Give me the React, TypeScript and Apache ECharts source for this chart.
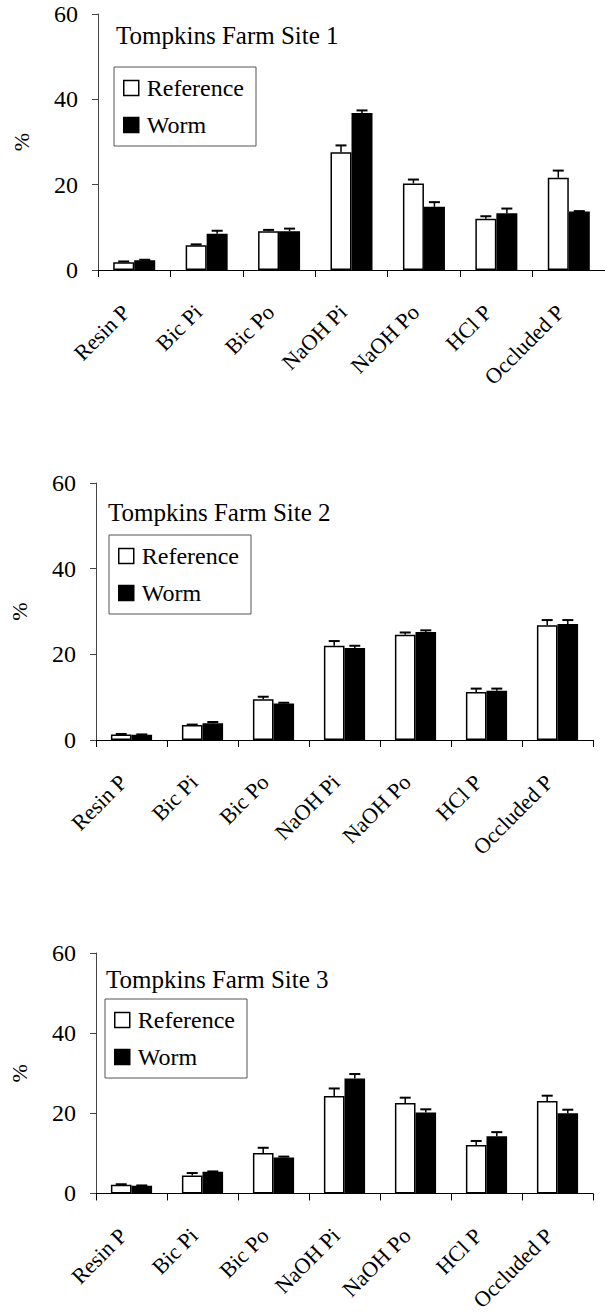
import React, { useEffect, useRef } from "react";
import * as echarts from "echarts";

const categories = ["Resin P", "Bic Pi", "Bic Po", "NaOH Pi", "NaOH Po", "HCl P", "Occluded P"];
const yTicks = [0, 20, 40, 60];
const titles = ["Tompkins Farm Site 1", "Tompkins Farm Site 2", "Tompkins Farm Site 3"];
const seriesNames = ["Reference", "Worm"];

// Site 1
const ref1 = [1.8, 5.8, 9.1, 27.6, 20.3, 12.0, 21.6];
const refSE1 = [0.2, 0.2, 0.3, 1.6, 0.9, 0.6, 1.7];
const worm1 = [2.3, 8.5, 9.1, 36.8, 14.8, 13.3, 13.7];
const wormSE1 = [0.1, 0.7, 0.6, 0.6, 1.1, 1.1, 0.1];
// Site 2
const ref2 = [1.3, 3.5, 9.5, 22.0, 24.6, 11.2, 26.8];
const refSE2 = [0.1, 0.1, 0.6, 1.1, 0.5, 0.8, 1.2];
const worm2 = [1.2, 3.9, 8.5, 21.5, 25.2, 11.5, 27.1];
const wormSE2 = [0.1, 0.3, 0.2, 0.5, 0.4, 0.5, 0.9];
// Site 3
const ref3 = [2.2, 4.5, 10.1, 24.3, 22.6, 12.1, 23.1];
const refSE3 = [0.1, 0.6, 1.3, 1.9, 1.3, 1.0, 1.3];
const worm3 = [1.9, 5.4, 9.0, 28.7, 20.2, 14.3, 20.0];
const wormSE3 = [0.1, 0.1, 0.2, 1.1, 0.8, 1.0, 0.9];

const FONT = '"Liberation Serif", "Times New Roman", serif';
const GAP = 0.42;

const panels = [
  { ref: ref1, refSE: refSE1, worm: worm1, wormSE: wormSE1, grid: { left: 98, top: 14, width: 510, height: 256 }, title: { left: 116, top: 23 }, legend: { left: 114, top: 67 } },
  { ref: ref2, refSE: refSE2, worm: worm2, wormSE: wormSE2, grid: { left: 91, top: 483, width: 502, height: 257 }, title: { left: 108, top: 500 }, legend: { left: 109, top: 535 } },
  { ref: ref3, refSE: refSE3, worm: worm3, wormSE: wormSE3, grid: { left: 90, top: 953, width: 503, height: 255 }, title: { left: 106, top: 967 }, legend: { left: 105, top: 999 } },
];

function errSeries(g: number, vals: number[], ses: number[], side: number) {
  return {
    type: "custom",
    xAxisIndex: g,
    yAxisIndex: g,
    z: 5,
    silent: true,
    data: vals.map((v, i) => [i, v, v + ses[i]]),
    renderItem: (params: any, api: any) => {
      const i = api.value(0);
      const v = api.value(1);
      const t = api.value(2);
      const p0 = api.coord([i, v]);
      const p1 = api.coord([i, t]);
      const band = api.size([1, 0])[0];
      const bw = (band * (1 - GAP)) / 2;
      const x = p0[0] + (side * bw) / 2;
      return {
        type: "group",
        children: [
          { type: "line", shape: { x1: x, y1: p0[1], x2: x, y2: p1[1] }, style: { stroke: "#000", lineWidth: 1.5 } },
          { type: "line", shape: { x1: x - 5.5, y1: p1[1], x2: x + 5.5, y2: p1[1] }, style: { stroke: "#000", lineWidth: 2 } },
        ],
      };
    },
  };
}

export default function App() {
  const ref = useRef<HTMLDivElement>(null);
  useEffect(() => {
    if (!ref.current) return;
    const chart = echarts.init(ref.current, null, { renderer: "svg" });
    const grid: any[] = [];
    const xAxis: any[] = [];
    const yAxis: any[] = [];
    const title: any[] = [];
    const legend: any[] = [];
    const series: any[] = [];
    panels.forEach((p, g) => {
      grid.push({ ...p.grid, containLabel: false });
      xAxis.push({
        type: "category",
        gridIndex: g,
        data: categories,
        axisLine: { lineStyle: { color: "#000", width: 1 } },
        axisTick: { show: true, length: 7, lineStyle: { color: "#000" } },
        axisLabel: {
          rotate: 45,
          interval: 0,
          margin: 30,
          padding: [0, 12, 0, 0],
          fontFamily: FONT,
          fontSize: 22,
          color: "#000",
        },
      });
      yAxis.push({
        type: "value",
        gridIndex: g,
        min: 0,
        max: 60,
        interval: 20,
        name: "%",
        nameLocation: "middle",
        nameGap: 66,
        nameTextStyle: { fontFamily: FONT, fontSize: 22, color: "#000" },
        axisLine: { show: true, lineStyle: { color: "#444", width: 1 } },
        axisTick: { show: true, length: 6, lineStyle: { color: "#444" } },
        splitLine: { show: false },
        axisLabel: {
          margin: 20,
          fontFamily: FONT,
          fontSize: 24,
          color: "#000",
          formatter: (v: number) => (yTicks.includes(v) ? String(v) : ""),
        },
      });
      title.push({
        text: titles[g],
        left: p.title.left,
        top: p.title.top,
        padding: 0,
        textStyle: { fontFamily: FONT, fontSize: 25, fontWeight: "normal", color: "#000" },
      });
      legend.push({
        left: p.legend.left,
        top: p.legend.top,
        orient: "vertical",
        itemWidth: 15,
        itemHeight: 15,
        itemGap: 13,
        padding: [9, 12, 9, 9],
        borderColor: "#555",
        borderWidth: 1,
        selectedMode: false,
        icon: "rect",
        textStyle: { fontFamily: FONT, fontSize: 24, color: "#000", padding: [0, 0, 0, 3] },
        data: [
          { name: seriesNames[0], itemStyle: { color: "#fff", borderColor: "#000", borderWidth: 1.5 } },
          { name: seriesNames[1], itemStyle: { color: "#000", borderColor: "#000", borderWidth: 1.5 } },
        ],
      });
      series.push({
        type: "bar",
        name: seriesNames[0],
        xAxisIndex: g,
        yAxisIndex: g,
        data: p.ref,
        barGap: "0%",
        barCategoryGap: "42%",
        itemStyle: { color: "#fff", borderColor: "#000", borderWidth: 1.5 },
      });
      series.push({
        type: "bar",
        name: seriesNames[1],
        xAxisIndex: g,
        yAxisIndex: g,
        data: p.worm,
        barGap: "0%",
        barCategoryGap: "42%",
        itemStyle: { color: "#000", borderColor: "#000", borderWidth: 1.5 },
      });
      series.push(errSeries(g, p.ref, p.refSE, -1));
      series.push(errSeries(g, p.worm, p.wormSE, 1));
    });
    chart.setOption({
      animation: false,
      backgroundColor: "#fff",
      grid,
      xAxis,
      yAxis,
      title,
      legend,
      series,
    });
    return () => chart.dispose();
  }, []);
  return (
    <div
      ref={ref}
      style={{ position: "absolute", left: 0, top: 0, width: 605, height: 1314, background: "#fff" }}
    />
  );
}
